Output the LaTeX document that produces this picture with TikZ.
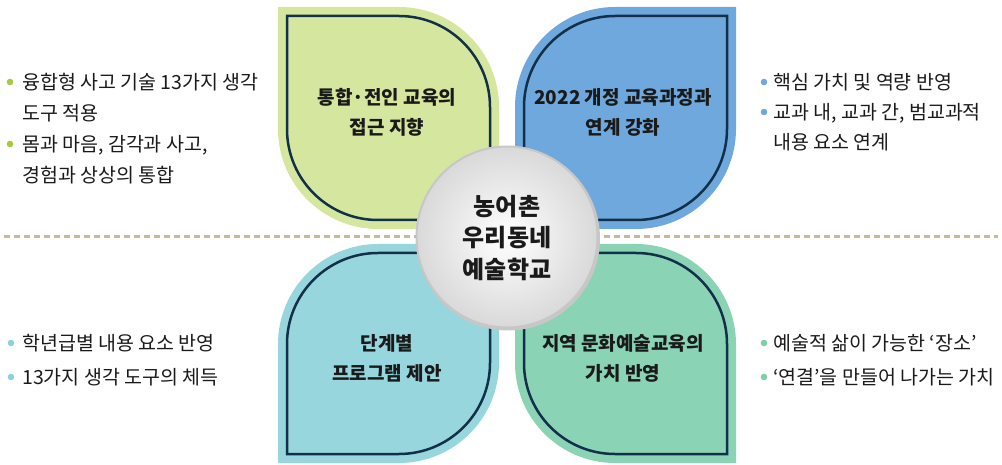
\documentclass[tikz,border=0pt]{standalone}
\usepackage{fontspec}
\setmainfont{Noto Sans CJK KR}
\definecolor{leafgreen}{HTML}{D5E79E}
\definecolor{leafblue}{HTML}{6FA8DC}
\definecolor{leafcyan}{HTML}{97D6DC}
\definecolor{leafteal}{HTML}{8BD3B5}
\definecolor{navy}{HTML}{123049}
\definecolor{dashtan}{HTML}{C9B99A}
\definecolor{txt}{HTML}{1A1A1A}
\definecolor{bgreen}{HTML}{A5CC3C}
\definecolor{bblue}{HTML}{6FA8DC}
\definecolor{bcyan}{HTML}{8CD2DA}
\definecolor{bteal}{HTML}{7FCDAA}
\begin{document}
\begin{tikzpicture}[x=1pt,y=1pt,
  leafA/.style args={#1/#2/#3/#4/#5}{insert path={(#1,#4) -- ({#3-#5},#4) arc[start angle=90,end angle=0,radius=#5] -- (#3,#2) -- ({#1+#5},#2) arc[start angle=270,end angle=180,radius=#5] -- cycle}},
  leafB/.style args={#1/#2/#3/#4/#5}{insert path={(#1,#2) -- (#1,{#4-#5}) arc[start angle=180,end angle=90,radius=#5] -- (#3,#4) -- (#3,{#2+#5}) arc[start angle=0,end angle=-90,radius=#5] -- cycle}},
  rim/.style={draw=navy, line width=2.5pt},
  leaftext/.style={align=center, text=txt, font=\bfseries\fontsize{19}{30}\selectfont},
  centertext/.style={align=center, text=txt, font=\bfseries\fontsize{24}{32}\selectfont},
  item/.style={anchor=west, align=left, text=txt, inner sep=0pt, font=\fontsize{19.5}{31}\selectfont},
  ritem/.style={item, font=\fontsize{19.5}{30}\selectfont},
  dot/.style={radius=3.3pt}
]
\useasboundingbox (0,0) rectangle (1002,464);
% dashed divider
\draw[dashtan, line width=3pt, dash pattern=on 6pt off 4pt] (4,227) -- (998,227);
% leaves
\fill[leafgreen, leafA=278/235/499/457/100];
\draw[rim, leafA=287/244/490/448/91];
\fill[leafblue, leafB=515/235/736/457/100];
\draw[rim, leafB=524/244/727/448/91];
\fill[leafcyan, leafB=278/1/499/220/100];
\draw[rim, leafB=287/10/490/211/91];
\fill[leafteal, leafA=515/1/736/220/100];
\draw[rim, leafA=524/10/727/211/91];
% leaf labels
\node[leaftext] (l1) at (387,352) {통합·전인 교육의\\접근 지향};
\node[leaftext] (l2) at (623,352) {2022 개정 교육과정과\\연계 강화};
\node[leaftext] (l3) at (387,106) {단계별\\프로그램 제안};
\node[leaftext] (l4) at (623,106) {지역 문화예술교육의\\가치 반영};
% center circle
\fill[black!22] (508,225.5) circle (92);
\shade[inner color=white, outer color=black!15] (507,227) circle (91);
\draw[black!22, line width=2pt] (507,227) circle (90.5);
\node[centertext] (c) at (507,226) {농어촌\\우리동네\\예술학교};
% left top bullets
\fill[bgreen] (10,382) circle[dot];
\node[item] (a1) at (22,366.5) {융합형 사고 기술 13가지 생각\\도구 적용};
\fill[bgreen] (10,320) circle[dot];
\node[item] (a2) at (22,304.5) {몸과 마음, 감각과 사고,\\경험과 상상의 통합};
% right top bullets
\fill[bblue] (764,382) circle[dot];
\node[ritem] (b1) at (773,382) {핵심 가치 및 역량 반영};
\fill[bblue] (764,352) circle[dot];
\node[ritem] (b2) at (773,337) {교과 내, 교과 간, 범교과적\\내용 요소 연계};
% bottom left bullets
\fill[bcyan] (11,121) circle[dot];
\node[item] (c1) at (22,121) {학년급별 내용 요소 반영};
\fill[bcyan] (11,87) circle[dot];
\node[item] (c2) at (22,87) {13가지 생각 도구의 체득};
% bottom right bullets
\fill[bteal] (764,121) circle[dot];
\node[item] (d1) at (773,121) {예술적 삶이 가능한 ‘장소’};
\fill[bteal] (764,87) circle[dot];
\node[item] (d2) at (773,87) {‘연결’을 만들어 나가는 가치};
\end{tikzpicture}
\end{document}
